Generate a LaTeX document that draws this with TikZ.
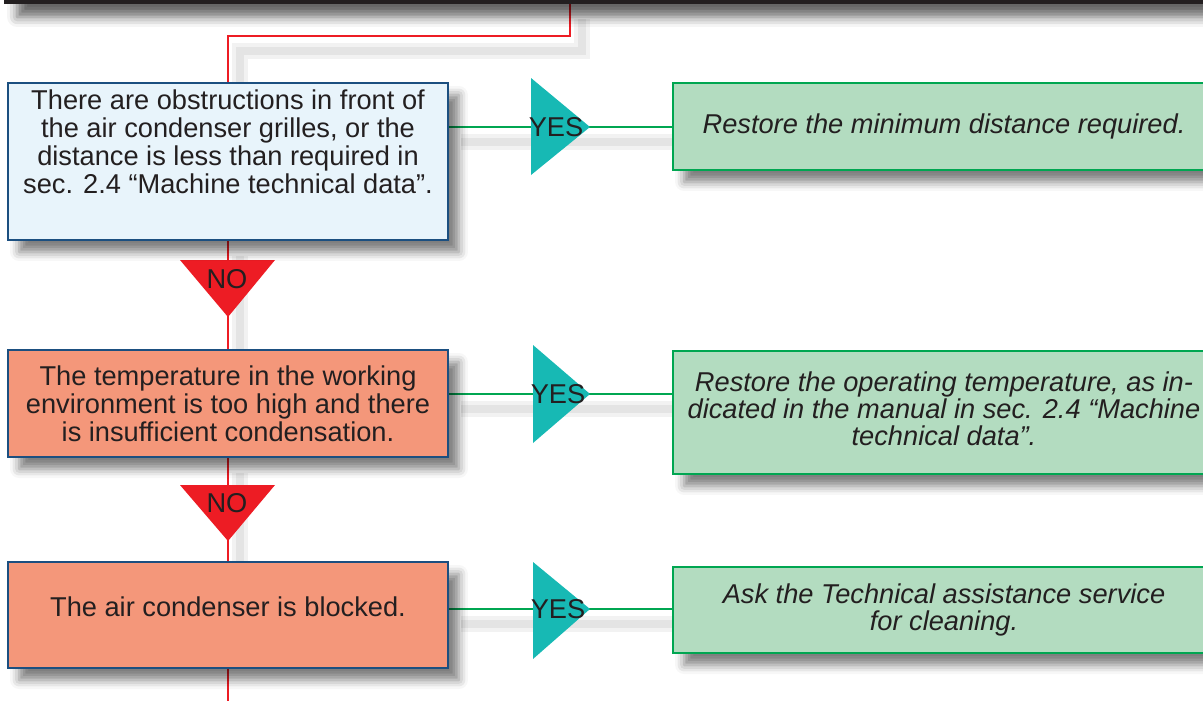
\documentclass[tikz,border=0pt]{standalone}
\usepackage{fontspec}
\setmainfont{Liberation Sans}
\usetikzlibrary{positioning, calc, backgrounds, shadows.blur}

\definecolor{inktext}{HTML}{231F20}
\definecolor{causeblue}{HTML}{E8F4FB}
\definecolor{causesalmon}{HTML}{F4977A}
\definecolor{edgeblue}{HTML}{1B4F80}
\definecolor{remedyfill}{HTML}{B3DCC0}
\definecolor{remedyedge}{HTML}{00A651}
\definecolor{flowred}{HTML}{ED1C24}
\definecolor{yesteal}{HTML}{17B9B4}

\begin{document}
\begin{tikzpicture}[x=0.02cm, y=-0.02cm,
    font=\fontsize{15.5}{15.9}\selectfont, text=inktext,
    boxshadow/.style={blur shadow={shadow xshift=0.22cm, shadow yshift=-0.24cm,
        shadow blur radius=0.18cm, shadow opacity=50}},
    cause/.style={draw=edgeblue, line width=1.4pt, minimum width=8.8cm,
        align=center, inner sep=2pt, boxshadow},
    remedy/.style={draw=remedyedge, fill=remedyfill, line width=1.3pt,
        minimum width=10.84cm, align=center, inner sep=2pt,
        font=\fontsize{15.5}{15.3}\selectfont\itshape, boxshadow},
    flow/.style={draw=flowred, line width=1.1pt},
    yesline/.style={draw=remedyedge, line width=1.5pt},
    lineshadow/.style={draw=black, opacity=0.05, line width=9pt,
        transform canvas={shift={(0.24cm,-0.3cm)}}},
    lineshadowcore/.style={draw=black, opacity=0.06, line width=4pt,
        transform canvas={shift={(0.24cm,-0.3cm)}}},
    tag/.style={inner sep=0pt}]
    \useasboundingbox (0,0) rectangle (1203,700);
    \clip (0,0) rectangle (1203,700);

    % kopfzeile
    \node[draw=inktext, fill=white, line width=2pt, minimum width=25.08cm,
        minimum height=1.24cm, blur shadow={shadow xshift=0.22cm, shadow yshift=-0.3cm,
        shadow blur radius=0.2cm, shadow opacity=60}] (head) at (633,-29) {};

    % ursachen
    \node[cause, fill=causeblue, minimum height=3.14cm, text depth=0.8cm] (c1) at (228,161.5)
        {There are obstructions in front of\\the air condenser grilles, or the\\
         distance is less than required in\\sec. 2.4 “Machine technical data”.};
    \node[cause, fill=causesalmon, minimum height=2.14cm] (c2) at (228,403.5)
        {The temperature in the working\\environment is too high and there\\
         is insufficient condensation.};
    \node[cause, fill=causesalmon, minimum height=2.12cm, text depth=0.35cm] (c3) at (228,615)
        {The air condenser is blocked.};

    % abhilfen
    \node[remedy, minimum height=1.74cm] (g1) at (944,126.5)
        {Restore the minimum distance required.};
    \node[remedy, minimum height=2.46cm, text depth=0.15cm] (g2) at (944,412.5)
        {Restore the operating temperature, as in-\\dicated in the manual in sec. 2.4 “Machine\\
         technical data”.};
    \node[remedy, minimum height=1.72cm] (g3) at (944,610)
        {Ask the Technical assistance service\\for cleaning.};

    % ja / nein
    \node[tag] (yes1) at (556,127) {YES};
    \node[tag] (yes2) at (558,394) {YES};
    \node[tag] (yes3) at (558,609) {YES};
    \node[tag] (no1) at (227,279) {NO};
    \node[tag] (no2) at (227,503) {NO};

    \coordinate (split) at (570,36);
    \coordinate (down) at (228,720);

    \begin{pgfonlayer}{background}
        % schatten der linien
        \foreach \s in {lineshadow, lineshadowcore} {
            \draw[\s] (head.south -| split) -- (split) -| (c1.north);
            \draw[\s] (c1.south) -- (c2.north);
            \draw[\s] (c2.south) -- (c3.north);
            \draw[\s] (c1.east |- yes1) -- (g1.west |- yes1);
            \draw[\s] (c2.east |- yes2) -- (g2.west |- yes2);
            \draw[\s] (c3.east |- yes3) -- (g3.west |- yes3);
        }
        % linien
        \draw[flow] (head.south -| split) -- (split) -| (c1.north);
        \draw[flow] (c1.south) -- (c2.north);
        \draw[flow] (c2.south) -- (c3.north);
        \draw[flow] (c3.south) -- (down);
        \draw[yesline] (c1.east |- yes1) -- (g1.west |- yes1);
        \draw[yesline] (c2.east |- yes2) -- (g2.west |- yes2);
        \draw[yesline] (c3.east |- yes3) -- (g3.west |- yes3);
        % dreiecke
        \fill[yesteal] ($(yes1)+(-25,-49)$) -- ($(yes1)+(34,0)$) -- ($(yes1)+(-25,48)$) -- cycle;
        \fill[yesteal] ($(yes2)+(-25,-49)$) -- ($(yes2)+(32,0)$) -- ($(yes2)+(-25,49)$) -- cycle;
        \fill[yesteal] ($(yes3)+(-25,-47)$) -- ($(yes3)+(32,0)$) -- ($(yes3)+(-25,50)$) -- cycle;
        \fill[flowred] ($(no1)+(-47,-19)$) -- ($(no1)+(48,-19)$) -- ($(no1)+(1,38)$) -- cycle;
        \fill[flowred] ($(no2)+(-47,-18)$) -- ($(no2)+(48,-18)$) -- ($(no2)+(1,38)$) -- cycle;
    \end{pgfonlayer}
\end{tikzpicture}
\end{document}
